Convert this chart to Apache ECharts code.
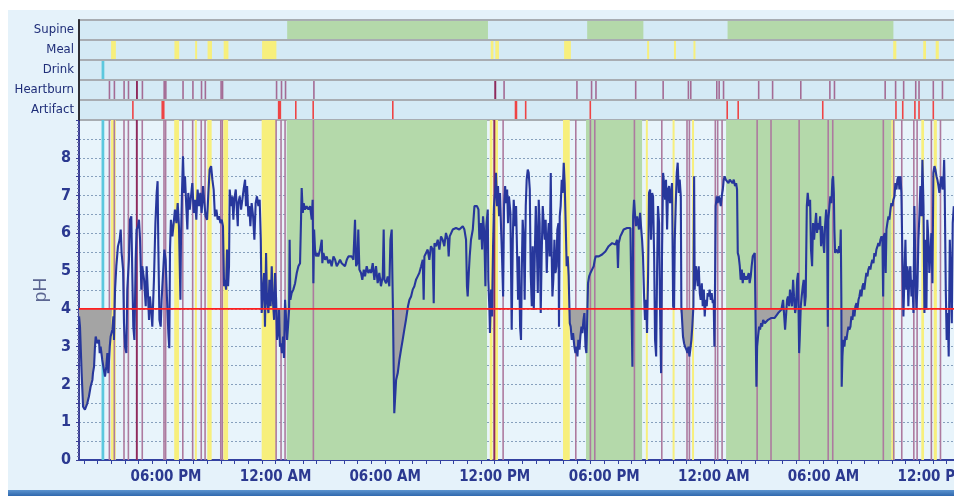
<!DOCTYPE html>
<html><head><meta charset="utf-8">
<script src="https://cdn.jsdelivr.net/npm/echarts@6/dist/echarts.min.js"></script>
<style>html,body{margin:0;padding:0;background:#fff;}#c{width:954px;height:496px;}</style>
</head><body><div id="c"></div>
<script>
// Time axis: hours since 12:00 PM of day 1
const X_MIN = 1.236, X_MAX = 49.15;
const PH_THRESHOLD = 4;
const trackNames = ['Supine', 'Meal', 'Drink', 'Heartburn', 'Artifact'];
const timeTickValues = [6, 12, 18, 24, 30, 36, 42, 48];
const timeTickLabels = ['06:00 PM', '12:00 AM', '06:00 AM', '12:00 PM', '06:00 PM', '12:00 AM', '06:00 AM', '12:00 PM'];
const minorTickStep = 0.75, minorTickStart = 1.5;

const supinePeriods = [[12.61, 23.58], [29.0, 32.07], [36.67, 45.73]];
const mealPeriods = [[2.99, 3.25], [6.45, 6.71], [7.59, 7.68], [8.26, 8.50], [9.14, 9.40], [11.24, 12.02],
  [23.73, 23.88], [23.98, 24.18], [27.74, 28.11], [32.30, 32.36], [33.75, 33.84], [34.82, 34.90],
  [45.72, 45.89], [47.36, 47.51], [48.04, 48.21]];
const drinkPeriods = [[2.47, 2.62]];
const heartburnTimes = [2.90, 3.17, 3.70, 3.94, 4.40, 4.70, 5.89, 5.98, 6.92, 7.46, 7.93, 8.14, 9.00, 9.08,
  12.03, 12.30, 12.52, 14.07, 23.98, 24.46, 28.44, 29.24, 29.48, 31.65, 33.15, 34.53, 34.66, 36.08, 36.21,
  36.45, 38.37, 39.13, 40.67, 42.26, 42.51, 45.28, 45.85, 46.29, 46.95, 47.13, 47.91, 48.41];
const heartburnStrongTimes = [4.40, 23.98];
const artifactPeriods = [[4.18, 4.18], [5.74, 5.91], [12.10, 12.28], [13.08, 13.08], [14.03, 14.03], [18.38, 18.38],
  [25.04, 25.18], [25.64, 25.64], [29.17, 29.17], [36.65, 36.65], [37.25, 37.25], [41.87, 41.87],
  [45.87, 45.87], [46.24, 46.24], [46.86, 46.95], [47.13, 47.13], [47.91, 47.91]];
const refluxEpisodes = [[1.236, 3.04], [12.02, 12.68], [18.42, 19.32], [28.05, 29.15], [34.15, 34.97], [38.31, 39.90], [43.01, 43.77]];

const phTrace = [
[1.24,3.80],[1.29,3.53],[1.38,2.30],[1.46,1.41],[1.56,1.33],[1.69,1.50],[1.78,1.68],[1.87,1.94],[1.97,2.12],[2.00,2.30],[2.06,2.47],[2.11,3.00],[2.15,3.27],[2.24,3.09],[2.33,3.18],[2.37,2.83],[2.42,3.00],[2.51,2.65],[2.60,2.38],[2.66,2.21],[2.73,2.47],[2.79,2.83],[2.84,2.30],[2.92,3.00],[2.97,3.27],[3.06,3.45],[3.12,3.80],[3.15,3.18],[3.21,4.51],[3.28,5.13],[3.37,5.66],[3.46,5.83],[3.52,6.10],[3.57,5.48],[3.65,5.04],[3.70,3.62],[3.755,3.00],[3.83,2.83],[3.88,4.51],[3.97,5.30],[4.03,6.36],[4.10,6.45],[4.16,4.77],[4.21,3.53],[4.27,3.18],[4.34,5.30],[4.39,6.10],[4.47,6.19],[4.52,6.36],[4.58,5.83],[4.65,4.51],[4.70,5.13],[4.80,4.77],[4.89,4.07],[4.94,5.13],[5.01,4.42],[5.07,3.71],[5.12,4.33],[5.20,3.89],[5.25,3.53],[5.34,4.77],[5.42,6.27],[5.49,7.07],[5.54,7.38],[5.58,5.66],[5.64,3.71],[5.71,3.53],[5.76,4.24],[5.84,4.95],[5.91,5.57],[5.98,5.30],[6.05,4.33],[6.13,3.36],[6.18,2.96],[6.22,5.57],[6.27,6.36],[6.35,5.92],[6.42,6.27],[6.49,6.63],[6.57,6.27],[6.64,6.80],[6.71,6.19],[6.79,4.24],[6.82,5.83],[6.88,7.16],[6.93,8.04],[6.99,7.07],[7.04,7.51],[7.11,6.72],[7.17,6.10],[7.22,7.07],[7.30,6.63],[7.37,6.98],[7.44,7.33],[7.52,6.54],[7.59,6.89],[7.66,6.36],[7.73,7.16],[7.81,6.72],[7.88,7.07],[7.95,6.54],[8.03,7.25],[8.10,6.80],[8.17,6.45],[8.25,6.36],[8.32,7.07],[8.39,7.69],[8.47,7.78],[8.54,7.42],[8.61,7.16],[8.68,6.45],[8.76,6.63],[8.83,6.36],[8.90,6.45],[8.98,6.27],[9.05,6.36],[9.12,6.19],[9.18,4.60],
[9.23,4.77],[9.29,4.51],[9.34,5.57],[9.40,4.60],[9.45,5.13],[9.49,7.16],[9.56,6.72],[9.63,6.98],[9.69,6.36],[9.74,6.89],[9.82,7.16],[9.87,6.72],[9.93,6.19],[9.96,6.80],[10.04,6.98],[10.11,6.63],[10.18,6.89],[10.25,7.16],[10.33,7.42],[10.38,6.72],[10.44,7.25],[10.51,6.45],[10.56,6.72],[10.62,6.19],[10.69,6.80],[10.77,6.45],[10.84,5.83],[10.91,6.80],[10.98,6.98],[11.06,6.72],[11.13,6.89],[11.19,5.83],[11.24,3.89],[11.30,4.42],[11.37,4.95],[11.42,3.53],[11.48,5.48],[11.53,4.24],[11.61,3.89],[11.66,4.77],[11.73,4.07],[11.79,5.13],[11.84,4.33],[11.92,3.71],[11.97,4.95],[12.03,4.24],[12.08,3.18],[12.13,3.36],[12.19,3.98],[12.24,3.00],[12.30,3.09],[12.35,2.83],[12.41,3.27],[12.46,2.70],[12.52,4.24],[12.57,3.80],[12.63,3.18],[12.68,3.53],[12.74,3.98],[12.77,5.83],[12.81,4.24],[12.88,4.42],[12.97,4.51],[13.07,4.68],[13.16,4.95],[13.25,5.13],[13.34,5.21],[13.39,6.27],[13.43,7.20],[13.49,6.54],[13.54,6.80],[13.61,6.63],[13.70,6.72],[13.80,6.63],[13.89,6.72],[13.98,6.36],[14.03,6.89],[14.07,4.68],[14.11,6.10],[14.16,5.57],[14.22,5.39],[14.29,5.48],[14.34,5.39],[14.44,5.57],[14.53,5.83],[14.56,5.21],[14.62,5.48],[14.71,5.30],[14.80,5.39],[14.89,5.21],[14.98,5.30],[15.07,5.13],[15.17,5.39],[15.26,5.30],[15.35,5.13],[15.44,5.21],[15.53,5.30],[15.62,5.21],[15.71,5.17],[15.80,5.13],[15.90,5.30],[15.99,5.39],[16.08,5.35],[16.17,5.39],[16.26,5.30],[16.35,6.36],[16.41,5.13],[16.48,5.21],[16.53,6.10],[16.59,5.04],[16.68,4.95],[16.75,4.77],[16.83,5.04],[16.90,4.86],[16.99,5.13],[17.08,4.95],[17.17,5.04],
[17.23,4.95],[17.32,5.21],[17.41,4.77],[17.50,5.13],[17.59,4.68],[17.68,4.95],[17.77,4.60],[17.87,4.86],[17.92,6.10],[17.96,4.77],[18.05,4.68],[18.14,4.86],[18.23,4.60],[18.29,5.83],[18.36,6.10],[18.40,4.77],[18.43,3.89],[18.47,2.30],[18.50,1.24],[18.54,1.59],[18.60,2.12],[18.69,2.30],[18.78,2.65],[18.87,2.92],[18.96,3.18],[19.05,3.45],[19.14,3.71],[19.25,4.07],[19.33,4.24],[19.42,4.33],[19.51,4.51],[19.60,4.60],[19.69,4.77],[19.78,4.86],[19.87,4.95],[19.97,5.13],[20.06,5.30],[20.11,4.24],[20.15,5.39],[20.24,5.48],[20.33,5.57],[20.42,5.30],[20.51,5.66],[20.60,5.57],[20.66,4.15],[20.70,5.74],[20.79,5.66],[20.88,5.83],[20.97,5.57],[21.06,5.92],[21.15,5.83],[21.24,5.66],[21.33,6.01],[21.43,5.83],[21.48,5.39],[21.535,5.92],[21.61,5.92],[21.70,6.10],[21.79,6.14],[21.88,6.14],[21.97,6.19],[22.06,6.10],[22.16,6.14],[22.25,6.19],[22.34,6.10],[22.43,5.83],[22.48,4.60],[22.52,4.33],[22.58,4.95],[22.63,5.39],[22.70,5.83],[22.80,6.10],[22.89,6.72],[22.94,6.76],[23.03,6.72],[23.11,6.63],[23.16,5.83],[23.25,6.27],[23.31,5.57],[23.36,6.45],[23.43,6.01],[23.49,4.60],[23.54,6.19],[23.62,6.63],[23.65,4.77],[23.71,3.98],[23.74,3.36],[23.80,4.51],[23.85,3.80],[23.91,5.66],[23.96,6.72],[24.02,7.07],[24.07,7.60],[24.13,6.72],[24.18,7.25],[24.24,6.45],[24.29,7.07],[24.35,6.10],[24.40,5.39],[24.46,4.33],[24.51,6.72],[24.57,7.25],[24.62,6.80],[24.68,7.16],[24.73,6.27],[24.78,6.98],[24.86,6.54],[24.93,3.45],[24.99,5.83],[25.04,6.89],[25.11,6.19],[25.17,6.72],
[25.22,6.72],[25.28,4.24],[25.33,5.39],[25.39,3.53],[25.44,3.18],[25.48,4.95],[25.53,6.36],[25.59,5.83],[25.64,4.24],[25.70,6.72],[25.75,7.42],[25.81,7.69],[25.86,7.60],[25.92,7.16],[25.97,4.95],[26.03,4.07],[26.08,5.66],[26.14,3.98],[26.19,5.30],[26.25,6.72],[26.30,5.83],[26.36,4.42],[26.41,6.89],[26.46,6.27],[26.52,3.89],[26.57,5.39],[26.63,6.72],[26.68,6.27],[26.74,5.83],[26.79,6.36],[26.85,4.95],[26.90,5.83],[26.96,6.27],[27.01,5.39],[27.07,7.60],[27.10,6.01],[27.16,4.33],[27.21,4.77],[27.27,5.83],[27.32,4.95],[27.38,5.13],[27.43,6.10],[27.49,6.27],[27.52,3.53],[27.56,6.45],[27.61,6.72],[27.67,7.42],[27.72,7.07],[27.78,7.87],[27.83,7.33],[27.89,6.19],[27.94,5.13],[27.997,5.39],[28.05,4.86],[28.11,3.62],[28.16,3.53],[28.22,3.18],[28.29,3.36],[28.36,3.00],[28.42,2.83],[28.47,3.00],[28.53,2.74],[28.58,3.18],[28.64,2.92],[28.69,3.27],[28.75,3.53],[28.80,3.36],[28.86,3.71],[28.91,3.89],[28.97,3.00],[29.02,2.83],[29.06,3.62],[29.11,4.68],[29.17,4.86],[29.24,4.95],[29.33,5.04],[29.42,5.13],[29.48,5.30],[29.53,5.39],[29.60,5.39],[29.70,5.39],[29.79,5.44],[29.88,5.44],[29.97,5.48],[30.06,5.52],[30.15,5.57],[30.24,5.66],[30.33,5.66],[30.43,5.74],[30.52,5.74],[30.61,5.70],[30.66,5.66],[30.70,5.83],[30.75,5.08],[30.79,5.74],[30.88,5.92],[30.97,6.01],[31.06,6.10],[31.16,6.14],[31.25,6.14],[31.34,6.19],[31.43,6.14],[31.50,6.10],[31.54,2.47],[31.58,6.45],[31.63,6.89],[31.69,6.45],[31.74,6.19],[31.80,6.45],[31.85,6.27],[31.90,6.10],[31.96,6.54],[32.01,6.19],[32.07,5.83],[32.12,5.39],[32.18,4.33],[32.23,3.71],[32.29,4.24],[32.34,3.36],[32.40,4.95],[32.45,7.07],[32.51,7.16],[32.56,5.83],[32.62,7.07],[32.67,6.98],[32.73,5.39],[32.78,3.18],[32.84,2.74],[32.89,4.95],[32.94,6.72],[33.00,6.27],[33.05,4.07],[33.11,2.30],[33.16,5.39],
[33.22,7.60],[33.27,7.33],[33.33,6.89],[33.38,7.42],[33.44,6.10],[33.49,7.16],[33.55,7.25],[33.60,6.80],[33.66,7.07],[33.71,7.33],[33.77,4.07],[33.82,3.98],[33.86,5.83],[33.91,6.72],[33.97,7.60],[34.02,7.87],[34.08,7.07],[34.13,7.42],[34.19,6.98],[34.22,4.07],[34.26,3.71],[34.31,3.27],[34.37,3.09],[34.42,3.00],[34.50,2.92],[34.55,2.83],[34.61,3.00],[34.66,2.74],[34.71,2.92],[34.77,3.18],[34.82,3.53],[34.88,4.07],[34.92,7.51],[34.95,4.51],[35.01,5.13],[35.06,4.95],[35.12,4.60],[35.17,5.13],[35.23,4.42],[35.28,4.24],[35.34,4.68],[35.39,4.07],[35.45,4.51],[35.50,3.80],[35.55,4.24],[35.61,4.07],[35.66,4.42],[35.72,4.33],[35.77,4.51],[35.83,4.24],[35.88,4.42],[35.94,4.15],[35.99,4.24],[36.03,3.00],[36.07,4.95],[36.10,6.72],[36.16,6.98],[36.21,6.80],[36.27,6.98],[36.32,6.89],[36.38,6.72],[36.43,6.98],[36.49,7.16],[36.54,7.42],[36.59,7.51],[36.65,7.42],[36.72,7.47],[36.80,7.33],[36.87,7.42],[36.94,7.38],[37.02,7.33],[37.09,7.42],[37.16,7.25],[37.22,7.33],[37.27,7.16],[37.31,5.48],[37.36,5.39],[37.42,5.13],[37.47,4.77],[37.53,5.04],[37.58,4.68],[37.64,4.95],[37.69,4.77],[37.745,4.86],[37.80,4.77],[37.855,4.77],[37.91,4.95],[37.96,4.68],[38.02,4.86],[38.07,5.13],[38.13,5.39],[38.18,5.44],[38.24,5.48],[38.29,5.44],[38.33,1.94],[38.37,3.00],[38.42,3.27],[38.48,3.53],[38.53,3.45],[38.59,3.62],[38.64,3.53],[38.70,3.71],[38.79,3.62],[38.88,3.67],[38.97,3.71],[39.06,3.71],[39.15,3.76],[39.24,3.80],[39.33,3.76],[39.42,3.80],[39.52,3.89],[39.61,3.89],[39.70,3.98],[39.79,4.24],[39.84,3.89],[39.90,3.45],[39.95,3.80],[40.01,4.24],[40.06,4.33],[40.12,4.07],[40.17,4.51],[40.23,4.24],[40.28,4.07],[40.34,4.77],[40.39,4.33],[40.45,3.89],[40.50,4.07],[40.56,4.77],[40.61,4.95],[40.67,2.83],[40.70,3.18],[40.76,4.07],[40.81,4.33],[40.87,4.60],[40.92,4.77],[40.98,4.07],[41.03,4.33],[41.09,6.72],[41.14,7.07],[41.20,6.72],
[41.27,6.89],[41.32,5.57],[41.38,5.13],[41.43,6.27],[41.49,5.83],[41.54,6.19],[41.60,6.54],[41.65,6.01],[41.71,6.27],[41.76,6.10],[41.82,6.45],[41.87,5.66],[41.93,6.19],[41.98,5.83],[42.04,5.48],[42.09,6.19],[42.15,6.63],[42.20,6.27],[42.24,3.53],[42.27,6.36],[42.33,6.72],[42.38,6.98],[42.44,6.80],[42.49,7.42],[42.53,7.51],[42.57,7.07],[42.60,6.10],[42.64,5.48],[42.69,5.57],[42.75,5.57],[42.80,5.48],[42.86,5.66],[42.91,5.48],[42.95,6.10],[42.98,4.33],[43.00,1.94],[43.04,2.74],[43.09,3.18],[43.15,3.00],[43.20,3.27],[43.26,3.18],[43.31,3.36],[43.37,3.53],[43.42,3.45],[43.48,3.53],[43.53,3.80],[43.59,3.71],[43.64,3.98],[43.70,3.80],[43.75,4.07],[43.81,4.15],[43.86,3.98],[43.92,4.24],[43.97,4.33],[44.03,4.51],[44.08,4.33],[44.14,4.60],[44.19,4.68],[44.24,4.51],[44.30,4.77],[44.35,4.95],[44.41,4.86],[44.46,5.04],[44.52,5.13],[44.57,5.04],[44.63,5.21],[44.68,5.30],[44.74,5.21],[44.79,5.48],[44.85,5.39],[44.90,5.57],[44.96,5.66],[45.01,5.74],[45.07,5.66],[45.12,5.83],[45.18,5.92],[45.23,5.83],[45.27,4.33],[45.30,5.92],[45.36,6.01],[45.41,4.95],[45.45,6.10],[45.50,6.27],[45.56,6.45],[45.61,6.36],[45.67,6.63],[45.72,6.80],[45.78,6.72],[45.83,6.89],[45.89,6.98],[45.94,7.33],[46.00,7.16],[46.05,7.42],[46.11,7.51],[46.16,7.16],[46.22,7.51],[46.27,7.07],[46.33,5.21],[46.38,3.80],[46.44,4.95],[46.49,5.83],[46.54,4.51],[46.60,5.13],[46.65,4.07],[46.71,4.95],[46.76,5.13],[46.82,4.33],[46.87,4.77],[46.93,3.89],[46.98,6.72],[47.04,4.95],[47.09,3.98],[47.15,4.60],[47.20,5.83],[47.26,6.54],[47.31,7.25],[47.37,6.45],[47.42,7.95],[47.48,6.72],[47.53,3.89],[47.59,5.83],[47.64,3.98],[47.69,6.36],[47.75,5.83],[47.80,4.95],[47.86,5.48],[47.91,6.01],[47.97,4.68],[48.02,7.60],[48.08,7.78],[48.13,7.69],[48.19,7.51],[48.24,7.42],[48.30,7.25],[48.35,7.07],[48.41,7.33],[48.46,7.51],[48.52,7.16],[48.57,7.33],[48.61,7.95],[48.64,7.16],[48.70,4.51],[48.75,3.18],[48.81,3.89],[48.86,2.74],[48.92,5.83],[48.97,4.95],[49.03,3.62],[49.08,6.27],[49.14,6.72]
];

// ---------- derived structures ----------
const minorTicks = [];
for (let t = minorTickStart; t <= X_MAX; t += minorTickStep) minorTicks.push(+t.toFixed(3));

const fillData = [];
refluxEpisodes.forEach(([s, e]) => {
  fillData.push([s, PH_THRESHOLD]);
  phTrace.forEach(([t, v]) => { if (t >= s && t <= e) fillData.push([t, Math.min(v, PH_THRESHOLD)]); });
  fillData.push([e, PH_THRESHOLD]);
  fillData.push([e, null]);
});

const NARROW = "'Liberation Sans Narrow','Arial Narrow','DejaVu Sans Condensed',sans-serif";
const C = {
  supine: '#b4d9aa', meal: '#f7ef7c', drink: '#5cc8de', hb: '#ad7a9f', hbStrong: '#8e2a5c',
  hbTrack: '#a46b94', artifact: '#ee4444', trace: '#27379c', fill: '#a4a4a4', threshold: '#ff1f1f'
};

function bandRender(color, minW) {
  return function (params, api) {
    const cs = params.coordSys;
    const x0 = api.coord([api.value(0), 0])[0];
    const x1 = api.coord([api.value(1), 0])[0];
    let w = x1 - x0, x = x0;
    if (w < minW) { x = (x0 + x1) / 2 - minW / 2; w = minW; }
    const shape = echarts.graphic.clipRectByRect({ x: x, y: cs.y, width: w, height: cs.height },
      { x: cs.x, y: cs.y, width: cs.width, height: cs.height });
    return shape && { type: 'rect', shape: shape, style: { fill: color } };
  };
}
function trackRender(color, minW) {
  return function (params, api) {
    const cs = params.coordSys;
    const p0 = api.coord([api.value(0), api.value(2)]);
    const p1 = api.coord([api.value(1), api.value(2)]);
    const h = api.size([0, 1])[1];
    let w = p1[0] - p0[0], x = p0[0];
    if (w < minW) { x = (p0[0] + p1[0]) / 2 - minW / 2; w = minW; }
    const shape = echarts.graphic.clipRectByRect({ x: x, y: p0[1] - h / 2 + 1, width: w, height: h - 2 },
      { x: cs.x + 1, y: cs.y, width: cs.width, height: cs.height });
    return shape && { type: 'rect', shape: shape, style: { fill: color } };
  };
}
function mainBand(name, data, color, minW) {
  return { name: name, type: 'custom', xAxisIndex: 0, yAxisIndex: 0, renderItem: bandRender(color, minW),
    data: data, encode: { x: [0, 1] }, silent: true, z: 2 };
}
function trackBand(name, data, row, color, minW) {
  return { name: name + ' track', type: 'custom', xAxisIndex: 1, yAxisIndex: 1, renderItem: trackRender(color, minW),
    data: data.map(p => [p[0], p[1], row]), encode: { x: [0, 1], y: 2 }, silent: true, z: 2 };
}
const asPairs = arr => arr.map(t => [t, t]);

const chart = echarts.init(document.getElementById('c'), null, { renderer: 'canvas' });
chart.setOption({
  animation: false,
  backgroundColor: '#ffffff',
  graphic: [
    { type: 'rect', z: -100, silent: true, shape: { x: 8, y: 10, width: 946, height: 481 }, style: { fill: '#e5f2fa' } },
    { type: 'rect', z: -100, silent: true, shape: { x: 8, y: 490, width: 946, height: 6 },
      style: { fill: new echarts.graphic.LinearGradient(0, 0, 0, 1, [{ offset: 0, color: '#5b93cf' }, { offset: 1, color: '#2f68ad' }]) } }
  ],
  grid: [
    { left: 79, right: 0, top: 120, height: 340, show: true, backgroundColor: '#e8f4fb', borderWidth: 0, outerBoundsMode: 'none', containLabel: false },
    { left: 79, right: -2, top: 20, height: 100, show: true, backgroundColor: '#d4eaf5', borderColor: '#a8adb2', borderWidth: 2, outerBoundsMode: 'none', containLabel: false }
  ],
  xAxis: [
    { gridIndex: 0, type: 'value', min: X_MIN, max: X_MAX,
      axisLine: { show: true, onZero: false, lineStyle: { color: '#3341a0', width: 2 } },
      axisTick: { show: true, customValues: minorTicks, length: 4, lineStyle: { color: '#3341a0', width: 1 } },
      axisLabel: { customValues: timeTickValues, formatter: v => timeTickLabels[timeTickValues.indexOf(v)] || '',
        color: '#2b3990', fontFamily: NARROW, fontWeight: 'bold', fontSize: 15, margin: 10 },
      splitLine: { show: false } },
    { gridIndex: 1, type: 'value', min: X_MIN, max: X_MAX, show: false }
  ],
  yAxis: [
    { gridIndex: 0, type: 'value', min: 0, max: 9, interval: 0.5,
      name: 'pH', nameLocation: 'middle', nameRotate: 90, nameGap: 26,
      nameTextStyle: { fontSize: 19, color: '#5b6691', fontFamily: "'Liberation Sans',Arial,sans-serif" },
      axisLine: { show: true, lineStyle: { color: '#3b3f96', width: 2 } },
      axisTick: { show: true, length: 3, lineStyle: { color: '#3b3f96' } },
      minorTick: { show: true, splitNumber: 5, length: 2, lineStyle: { color: '#6a70a8' } },
      axisLabel: { formatter: v => (Number.isInteger(v) && v < 9) ? String(v) : '', color: '#2b3990',
        fontFamily: NARROW, fontWeight: 'bold', fontSize: 16, margin: 8 },
      splitLine: { show: true, lineStyle: { color: '#87a0bd', width: 1, type: [2, 2] } } },
    { gridIndex: 1, type: 'category', data: trackNames, inverse: true,
      axisLine: { show: true, lineStyle: { color: '#2e2e34', width: 2 } },
      axisTick: { show: false },
      axisLabel: { color: '#1e2d78', fontFamily: NARROW, fontSize: 13, margin: 5 },
      splitLine: { show: true, interval: 0, lineStyle: { color: '#a8adb2', width: 2 } } }
  ],
  series: [
    mainBand('Supine', supinePeriods, C.supine, 1),
    mainBand('Meal', mealPeriods, C.meal, 2),
    mainBand('Drink', drinkPeriods, C.drink, 2),
    mainBand('Heartburn', asPairs(heartburnTimes), C.hb, 1.6),
    mainBand('Heartburn strong', asPairs(heartburnStrongTimes), C.hbStrong, 1.8),
    trackBand('Supine', supinePeriods, 0, C.supine, 1),
    trackBand('Meal', mealPeriods, 1, C.meal, 2),
    trackBand('Drink', drinkPeriods, 2, C.drink, 2),
    trackBand('Heartburn', asPairs(heartburnTimes), 3, C.hbTrack, 1.6),
    trackBand('Heartburn strong', asPairs(heartburnStrongTimes), 3, C.hbStrong, 1.8),
    trackBand('Artifact', artifactPeriods, 4, C.artifact, 1.6),
    { name: 'Acid exposure', type: 'line', xAxisIndex: 0, yAxisIndex: 0, data: fillData, symbol: 'none',
      connectNulls: false, lineStyle: { width: 0, opacity: 0 }, areaStyle: { color: C.fill, opacity: 1, origin: PH_THRESHOLD },
      silent: true, z: 3 },
    { name: 'pH', type: 'line', xAxisIndex: 0, yAxisIndex: 0, data: phTrace, symbol: 'none', sampling: null,
      lineStyle: { color: C.trace, width: 2.1 }, silent: true, z: 4 },
    { name: 'Threshold', type: 'line', xAxisIndex: 0, yAxisIndex: 0,
      data: [[X_MIN, PH_THRESHOLD], [X_MAX, PH_THRESHOLD]], symbol: 'none',
      lineStyle: { color: C.threshold, width: 1.6 }, silent: true, z: 6 }
  ]
});
</script></body></html>
